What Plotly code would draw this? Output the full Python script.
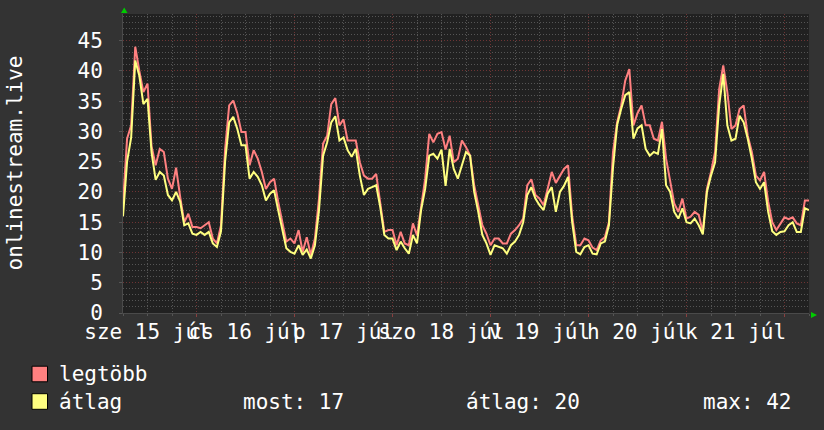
import plotly.graph_objects as go
import pandas as pd

# ---- data (hourly samples, starting 2020-07-15 06:00) ----
legtobb = [18, 28.8, 31, 44, 40, 36.5, 37.9, 27.5, 24.4, 27.1, 26.6, 22.2, 20.5, 24, 19.2, 15, 16.4, 14.2, 14.2, 14,
           14.5, 15, 12.3, 11.5, 14.5, 27, 34.3, 35.1, 33, 29.9, 29.9, 24.4, 26.9, 25.5, 23.3, 20.5, 21.6, 22.2, 18.4, 14.8,
           11.8, 12.3, 11.5, 13.7, 10.1, 12.5, 9.6, 12.3, 18.9, 28, 29.3, 34.5, 35.5, 31, 32, 28.5, 28.5, 28.5, 24.9, 22.7,
           22.2, 22.2, 23, 18, 13.4, 13.7, 13.7, 11.2, 13.4, 11.5, 11.2, 14.8, 12.8, 17.5, 22.2, 29.6, 28.2, 29.6, 29.9, 27,
           29.3, 24.9, 25.5, 28.5, 27.4, 26, 21.1, 17.8, 14.5, 13.1, 11.2, 12.3, 12.3, 11.5, 11.5, 13.1, 13.7, 14.5, 15.6, 21.1,
           22.1, 19.5, 18.9, 17.8, 20.8, 23.3, 21.5, 22.7, 23.8, 24.4, 16, 11.2, 11.2, 12.3, 12, 10.8, 10.4, 12, 12.5, 15,
           26.6, 31.5, 34.3, 38.4, 40.3, 31, 33, 34.3, 31, 31, 28.8, 28.5, 31.6, 25.5, 21.6, 18.1, 16.7, 18.9, 15.6, 15.9,
           16.7, 16.2, 13.4, 20.5, 23.3, 26.6, 37, 40.9, 36.5, 30.4, 31, 33.7, 34.3, 29.3, 26.6, 22.7, 21.9, 23.3, 18.4, 15,
           13.7, 14.8, 15.8, 15.5, 15.8, 14.8, 14.5, 18.6, 18.6]
atlag = [16, 25, 29, 41.7, 39.2, 34.5, 35.4, 26.5, 22, 23.3, 22.7, 19.5, 18.6, 20, 18.4, 14.5, 14.8, 13.1, 12.9, 13.4,
         12.9, 13.4, 11.5, 10.9, 13.5, 25, 31.5, 32.4, 30.4, 27.7, 27.7, 22.2, 23.3, 22.5, 21.1, 18.6, 19.7, 20.3, 17, 14,
         10.7, 10.1, 9.8, 11.2, 9.6, 10.5, 9, 11.2, 17, 26, 28.2, 31.5, 32.5, 28.5, 29, 26.9, 25.8, 27.1, 22.7, 19.5,
         20.5, 20.8, 21.1, 17.5, 12.9, 12.3, 12.3, 10.4, 11.8, 10.7, 9.8, 12.9, 11.5, 17, 20.5, 26, 26.3, 25.5, 27, 21,
         27.1, 23.8, 22.2, 24.4, 26.6, 26, 20, 16.7, 12.9, 11.5, 9.6, 11.2, 11, 10.7, 9.8, 11.2, 11.8, 12.9, 15, 19.5,
         20.8, 18.9, 17.8, 17, 19.7, 20.8, 16.7, 20, 21, 22.5, 15, 10.1, 9.7, 10.9, 11.2, 9.8, 9.7, 11.5, 11.8, 14.5,
         24, 31, 33.7, 36, 36.5, 28.8, 30.5, 31, 27.1, 26, 26.6, 26.3, 30.4, 21.1, 20, 16.7, 15.6, 17.3, 15, 14.8,
         15.6, 14.5, 13, 20, 22.7, 24.9, 34.3, 39.5, 31, 28.5, 28.8, 32.6, 31.5, 28.8, 25.5, 21.6, 20.5, 21.6, 16.7, 13.5,
         12.9, 13.4, 13.5, 14.5, 15, 13.4, 13.4, 17.3, 17]
day_labels = ["sze 15 júl", "cs 16 júl", "p 17 júl", "szo 18 júl", "v 19 júl", "h 20 júl", "k 21 júl"]
series_names = ["legtöbb", "átlag"]
y_title = "onlinestream.live"

# ---- layout constants ----
W, H = 824, 430
ML, MR, MT, MB = 123, 15, 14, 117
PW, PH = W - ML - MR, H - MT - MB
FONT = "DejaVu Sans Mono"
FS = 21
RED = "#ff8080"
YEL = "#ffff80"
MAJ = "#6e3434"
MIN = "#555555"
DOT = "1px,2px"

start = pd.Timestamp("2020-07-15 06:00")
times = pd.date_range(start, periods=len(atlag), freq="h")
end = start + pd.Timedelta(days=7)
noons = [pd.Timestamp("2020-07-15 12:00") + pd.Timedelta(days=i) for i in range(len(day_labels))]
midnights = [pd.Timestamp("2020-07-16 00:00") + pd.Timedelta(days=i) for i in range(7)]


def px(x):
    return (x - ML) / PW


def py(y):
    return (H - MB - y) / PH


fig = go.Figure()
fig.add_trace(go.Scatter(x=times, y=legtobb, mode="lines", name=series_names[0],
                         line=dict(color=RED, width=2), showlegend=False))
fig.add_trace(go.Scatter(x=times, y=atlag, mode="lines", name=series_names[1],
                         line=dict(color=YEL, width=2), showlegend=False))

fig.update_layout(
    template="none",
    width=W, height=H,
    margin=dict(l=ML, r=MR, t=MT, b=MB, pad=0, autoexpand=False),
    paper_bgcolor="#333333",
    plot_bgcolor="#212121",
    font=dict(family=FONT, size=FS, color="#ffffff"),
    xaxis=dict(
        type="date", range=[start, end], tickmode="array", tickvals=noons, ticktext=day_labels,
        tickangle=0, showgrid=False, zeroline=False, ticks="", automargin=False,
        tickfont=dict(family=FONT, size=FS, color="#ffffff"),
        showline=True, linecolor="#4a4a4a", linewidth=1,
        minor=dict(tickmode="linear", tick0="2020-07-15 00:00", dtick=6 * 3600 * 1000,
                   showgrid=True, gridcolor=MIN, griddash=DOT, gridwidth=1,
                   ticks="outside", ticklen=2, tickcolor=MIN),
    ),
    xaxis2=dict(
        type="date", overlaying="x", anchor="y", side="bottom", range=[start, end],
        tickmode="array", tickvals=midnights, showticklabels=False,
        showgrid=True, gridcolor=MAJ, griddash=DOT, gridwidth=1, zeroline=False,
        ticks="outside", ticklen=3, tickcolor="#8a4040", automargin=False,
    ),
    yaxis=dict(
        range=[0, 49.4], tickmode="linear", tick0=0, dtick=5,
        showgrid=True, gridcolor=MAJ, griddash=DOT, gridwidth=1, zeroline=False,
        ticks="outside", ticklen=3, tickcolor="#555555", ticklabelstandoff=12,
        tickfont=dict(family=FONT, size=FS, color="#ffffff"), automargin=False,
        showline=True, linecolor="#4a4a4a", linewidth=1,
        minor=dict(tickmode="linear", tick0=0, dtick=1, showgrid=True,
                   gridcolor=MIN, griddash=DOT, gridwidth=1),
    ),
)
# invisible trace so xaxis2 is rendered
fig.add_trace(go.Scatter(x=[start, end], y=[None, None], xaxis="x2", yaxis="y",
                         mode="lines", showlegend=False, hoverinfo="skip"))

# y-axis title
fig.add_annotation(x=px(14), y=0.5, xref="paper", yref="paper", text=y_title, textangle=-90,
                   showarrow=False, xanchor="center", yanchor="middle",
                   font=dict(family=FONT, size=FS, color="#ffffff"))

# arrows
fig.add_shape(type="path", xref="paper", yref="paper",
              path=f"M {px(121)} {py(13)} L {px(127.5)} {py(13)} L {px(124.2)} {py(7.5)} Z",
              fillcolor="#00cc00", line=dict(width=0))
fig.add_shape(type="path", xref="paper", yref="paper",
              path=f"M {px(811)} {py(312)} L {px(817)} {py(315)} L {px(811)} {py(318)} Z",
              fillcolor="#00cc00", line=dict(width=0))

# legend
rows = [(374, RED, series_names[0]), (401.5, YEL, series_names[1])]
for cy, col, name in rows:
    fig.add_shape(type="rect", xref="paper", yref="paper",
                  x0=px(32), x1=px(47.5), y0=py(cy - 7.8), y1=py(cy + 7.8),
                  fillcolor=col, line=dict(color="#000000", width=1))
    fig.add_annotation(x=px(57), y=py(cy), xref="paper", yref="paper", text=name,
                       showarrow=False, xanchor="left", yanchor="middle",
                       font=dict(family=FONT, size=FS, color="#ffffff"))

most = atlag[-1]
avg = sum(atlag) / len(atlag)
mx = max(atlag)
stats = [(241, f"most: {most:.0f}"), (464, f"átlag: {avg:.0f}"), (701, f"max: {mx:.0f}")]
for x0, txt in stats:
    fig.add_annotation(x=px(x0), y=py(401.5), xref="paper", yref="paper", text=txt,
                       showarrow=False, xanchor="left", yanchor="middle",
                       font=dict(family=FONT, size=FS, color="#ffffff"))

fig.write_html("out.html")
